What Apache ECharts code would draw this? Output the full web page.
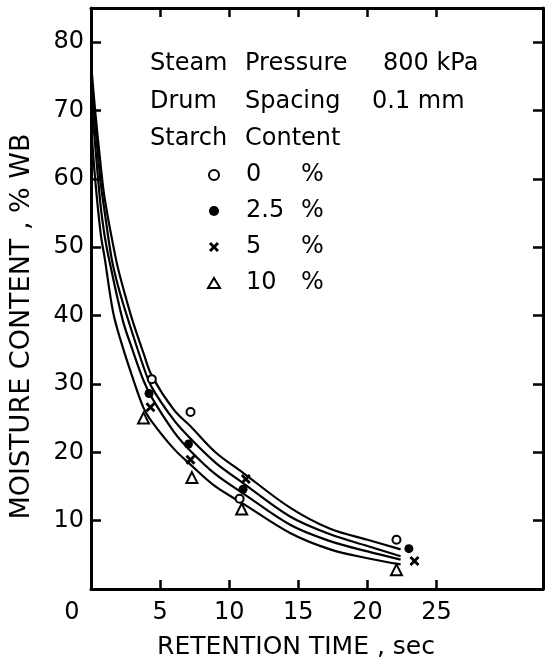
<!DOCTYPE html>
<html><head><meta charset="utf-8">
<script src="https://cdn.jsdelivr.net/npm/echarts@6/dist/echarts.min.js"></script>
<style>html,body{margin:0;padding:0;background:#fff}#c{width:550px;height:665px}</style>
</head><body><div id="c"></div>
<script>
// ---- data ----
const seriesNames = ['0', '2.5', '5', '10'];
const time0 = [4.4, 7.2, 10.75, 22.1];
const moist0 = [30.7, 25.9, 13.2, 7.2];
const time25 = [4.2, 7.05, 11.0, 23.0];
const moist25 = [28.6, 21.2, 14.6, 5.9];
const time5 = [4.3, 7.2, 11.2, 23.4];
const moist5 = [26.6, 18.9, 16.1, 4.1];
const time10 = [3.8, 7.3, 10.9, 22.1];
const moist10 = [25.0, 16.3, 11.7, 2.8];

// fitted curves
const curveTopX = [0, 0.3, 0.7, 1.0, 1.8, 2.2, 3.0, 3.8, 4.4, 6, 7.2, 9, 11, 14.4, 17.3, 20, 22.4];
const curveTopY = [77, 70, 62, 57, 48.3, 45, 39.3, 34.5, 31.2, 26.2, 23.8, 20.0, 17.0, 11.9, 8.8, 7.2, 5.8];
const curve2X = [0, 0.3, 0.7, 1.0, 1.5, 2.0, 2.7, 3.8, 4.4, 6, 7.2, 9, 11, 14.4, 17.3, 20, 22.4];
const curve2Y = [75, 68, 59.5, 55, 48.3, 44, 39.3, 32.5, 29.5, 24.7, 22.0, 18.5, 15.5, 10.6, 8.0, 6.3, 4.8];
const curve3X = [0, 0.3, 0.7, 1.0, 1.3, 2.3, 3.0, 3.8, 4.4, 6, 7.2, 9, 11, 14.4, 17.3, 20, 22.4];
const curve3Y = [72, 65, 56, 51.5, 48.3, 39.3, 35, 30.5, 28, 23, 20.2, 16.8, 14.0, 9.4, 7.0, 5.5, 4.3];
const curveBotX = [0, 0.3, 0.7, 1.0, 1.6, 2.2, 3.0, 3.8, 4.4, 6, 7.2, 9, 11, 14.4, 17.3, 20, 22.4];
const curveBotY = [68, 60, 52, 48.3, 40.5, 36, 31, 26.5, 24.5, 20.5, 18.2, 15.0, 12.5, 8.2, 5.8, 4.5, 3.6];

const xTicks = [0, 5, 10, 15, 20, 25];
const yTicks = [0, 10, 20, 30, 40, 50, 60, 70, 80];

const headerRows = [
  ['Steam', 'Pressure', '800 kPa'],
  ['Drum', 'Spacing', '0.1 mm'],
  ['Starch', 'Content', '']
];

// ---- chart ----
const FONT = 'DejaVu Sans';
const zip = (a, b) => a.map((v, i) => [v, b[i]]);
const crossPath = 'path://M2,0 L5,3 L8,0 L10,2 L7,5 L10,8 L8,10 L5,7 L2,10 L0,8 L3,5 L0,2 Z';
const symbols = ['emptyCircle', 'circle', crossPath, 'emptyTriangle'];
const sizes = [8, 9, 10, 11];
const pts = [zip(time0, moist0), zip(time25, moist25), zip(time5, moist5), zip(time10, moist10)];
const curves = [zip(curveTopX, curveTopY), zip(curve2X, curve2Y), zip(curve3X, curve3Y), zip(curveBotX, curveBotY)];

const chart = echarts.init(document.getElementById('c'), null, {renderer: 'canvas'});

const markStyle = i => ({color: '#000', borderColor: '#000', borderWidth: (i === 0 || i === 3) ? 2 : 0, opacity: 1});
const series = [];
curves.forEach((c, i) => series.push({
  type: 'line', name: 'curve' + i, data: c, showSymbol: false, smooth: 0.35,
  lineStyle: {color: '#000', width: 2.2}, silent: true, z: 2
}));
pts.forEach((p, i) => series.push({
  type: 'scatter', name: seriesNames[i], data: p, symbol: symbols[i], symbolSize: sizes[i],
  itemStyle: markStyle(i), z: 5
}));

const headerCols = [150, 245, 383];
const headerColsAlt = [150, 245, 372];
const headerY = [64, 102, 139];
const graphics = [];
headerRows.forEach((row, r) => row.forEach((t, c) => {
  if (!t) return;
  graphics.push({type: 'text', left: (r === 1 ? headerColsAlt : headerCols)[c], top: headerY[r] - 12,
    style: {text: t, font: '24px "' + FONT + '"', fill: '#000'}});
}));

const tickStyle = {show: true, inside: true, length: 10, lineStyle: {color: '#000', width: 2.5}};
const lineStyle = {show: true, onZero: false, lineStyle: {color: '#000', width: 3}};

chart.setOption({
  animation: false,
  backgroundColor: '#fff',
  grid: {left: 91, right: 7, top: 8, bottom: 73},
  graphic: graphics,
  legend: {
    data: seriesNames.map((n, i) => ({name: n, icon: symbols[i], itemStyle: markStyle(i)})),
    orient: 'vertical', left: 207, top: 163, padding: 0, itemWidth: 12, itemHeight: 10, itemGap: 12,
    selectedMode: false,
    formatter: n => '{v|' + n + '}{p|%}',
    textStyle: {fontFamily: FONT, fontSize: 24, color: '#000', lineHeight: 24, padding: [0, 0, 0, 21],
      rich: {v: {width: 55, fontFamily: FONT, fontSize: 24, color: '#000'}, p: {fontFamily: FONT, fontSize: 24, color: '#000'}}}
  },
  xAxis: [{
    type: 'value', min: 0, max: 32.7, interval: 5, position: 'bottom',
    axisLine: lineStyle, splitLine: {show: false},
    axisTick: Object.assign({customValues: xTicks.slice(1)}, tickStyle, {length: 9}),
    axisLabel: {customValues: xTicks, margin: 12, fontFamily: FONT, fontSize: 24, color: '#000',
      formatter: v => v === 0 ? '{z|0}' : (v > 25 ? '' : String(v)),
      rich: {z: {fontFamily: FONT, fontSize: 24, color: '#000', padding: [0, 38, 0, 0]}}},
    name: 'RETENTION TIME , sec', nameLocation: 'middle', nameGap: 46,
    nameTextStyle: {fontFamily: FONT, fontSize: 25, color: '#000', padding: [0, 42, 0, 0]}
  }, {
    type: 'value', min: 0, max: 32.7, interval: 5, position: 'top',
    axisLine: lineStyle, splitLine: {show: false},
    axisTick: Object.assign({customValues: xTicks.slice(1)}, tickStyle, {length: 9}),
    axisLabel: {show: false}
  }],
  yAxis: [{
    type: 'value', min: 0, max: 85, interval: 10, position: 'left',
    axisLine: lineStyle, splitLine: {show: false},
    axisTick: Object.assign({customValues: yTicks.slice(1)}, tickStyle),
    axisLabel: {customValues: yTicks.slice(1), margin: 7, fontFamily: FONT, fontSize: 24, color: '#000'},
    name: 'MOISTURE CONTENT , % WB', nameLocation: 'middle', nameGap: 56,
    nameTextStyle: {fontFamily: FONT, fontSize: 27, color: '#000', padding: [0, 56, 0, 0]}
  }, {
    type: 'value', min: 0, max: 85, interval: 10, position: 'right',
    axisLine: lineStyle, splitLine: {show: false},
    axisTick: Object.assign({customValues: yTicks.slice(1)}, tickStyle),
    axisLabel: {show: false}
  }],
  series: series
});
</script></body></html>
